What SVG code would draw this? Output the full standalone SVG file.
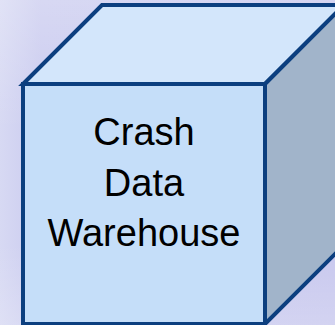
<svg xmlns="http://www.w3.org/2000/svg" width="335" height="325" viewBox="0 0 335 325">
  <defs>
    <linearGradient id="bgH" x1="0" y1="0" x2="1" y2="0">
      <stop offset="0" stop-color="#D7D9F3"/>
      <stop offset="0.12" stop-color="#CACBEF"/>
      <stop offset="1" stop-color="#C8C8EE"/>
    </linearGradient>
    <linearGradient id="bgV" x1="0" y1="0" x2="0" y2="1">
      <stop offset="0" stop-color="#FFFFFF" stop-opacity="0.25"/>
      <stop offset="0.4" stop-color="#FFFFFF" stop-opacity="0"/>
      <stop offset="0.75" stop-color="#FFFFFF" stop-opacity="0"/>
      <stop offset="1" stop-color="#FFFFFF" stop-opacity="0.2"/>
    </linearGradient>
    <style>
      .edge { stroke: #0C3F7F; stroke-width: 4; stroke-linejoin: miter; }
      .top { fill: #D3E6FB; }
      .front { fill: #C5DEF9; }
      .side { fill: #A1B4CA; }
      .label { font-family: "Liberation Sans", Arial, sans-serif; font-size: 38px; fill: #000000; text-anchor: middle; }
    </style>
  </defs>
  <rect x="0" y="0" width="335" height="325" fill="url(#bgH)"/>
  <rect x="0" y="0" width="335" height="325" fill="url(#bgV)"/>
  <g id="connectors"/>
  <g id="crash-data-warehouse">
    <polygon class="top edge" points="23,84 102,5 344,5 265,84"/>
    <polygon class="side edge" points="265,84 344,5 344,245 265,324"/>
    <rect class="front edge" x="23" y="84" width="242" height="240"/>
    <text class="label" x="144" y="145">Crash</text>
    <text class="label" x="144" y="196">Data</text>
    <text class="label" x="144" y="246">Warehouse</text>
  </g>
</svg>
